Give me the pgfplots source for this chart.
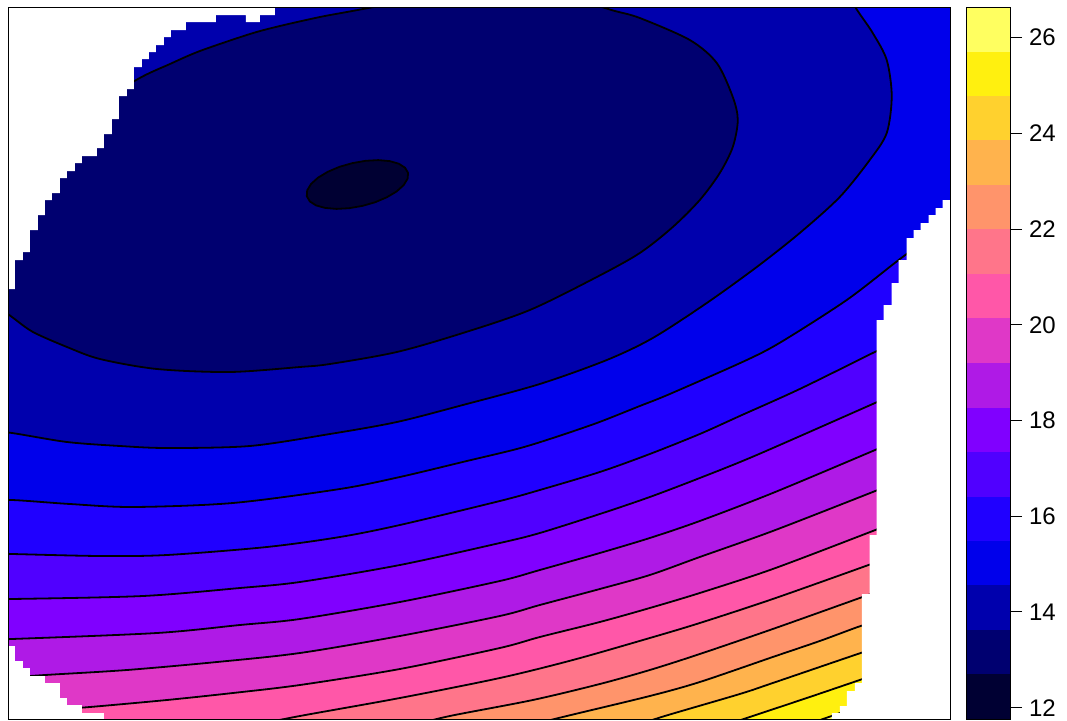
\documentclass[border=0pt]{standalone}
\usepackage{pgfplots}
\pgfplotsset{compat=1.18}
\usepgfplotslibrary{fillbetween}
\usepackage{fontspec}
\setmainfont{Liberation Sans}
\definecolor{b0}{RGB}{0,0,51}
\definecolor{b1}{RGB}{0,0,112}
\definecolor{b2}{RGB}{0,0,173}
\definecolor{b3}{RGB}{0,0,235}
\definecolor{b4}{RGB}{32,0,255}
\definecolor{b5}{RGB}{80,0,255}
\definecolor{b6}{RGB}{128,0,255}
\definecolor{b7}{RGB}{175,26,230}
\definecolor{b8}{RGB}{223,56,199}
\definecolor{b9}{RGB}{255,87,168}
\definecolor{b10}{RGB}{255,117,138}
\definecolor{b11}{RGB}{255,148,107}
\definecolor{b12}{RGB}{255,179,77}
\definecolor{b13}{RGB}{255,209,46}
\definecolor{b14}{RGB}{255,240,15}
\definecolor{b15}{RGB}{255,255,96}
\begin{document}
\begin{tikzpicture}
\begin{axis}[
  at={(4pt,0.5pt)}, anchor=south west,
  scale only axis, width=471.35pt, height=355.85pt,
  xmin=8, xmax=951, ymin=7.3, ymax=719, y dir=reverse,
  xtick=\empty, ytick=\empty,
  axis on top,
  axis line style={line width=0.5pt},
  axis background/.style={fill=b15},
]
\addplot[name path=top, draw=none] coordinates {(-200,-200) (1200,-200)};
% contour lines (pixel coordinates of the reference panel)
\addplot[name path=c15, smooth, draw=black, line width=0.9pt, mark=none] coordinates {(-200,737) (770,737) (800,727) (829,717) (860,706) (890,696)};
\addplot[name path=c14, smooth, draw=black, line width=0.9pt, mark=none] coordinates {(-200,737) (690,737) (720,727) (750,717) (807,698) (857,681) (880,673) (910,663)};
\addplot[name path=c13, smooth, draw=black, line width=0.9pt, mark=none] coordinates {(-200,736) (605,736) (635,726) (665,716) (740,694) (773,683) (858,654) (880,647) (910,637)};
\addplot[name path=c12, smooth, draw=black, line width=0.9pt, mark=none] coordinates {(-200,737) (487,737) (527,726) (567,716) (650,696) (700,682) (773,657) (820,641) (858,627) (880,620) (910,611)};
\addplot[name path=c11, smooth, draw=black, line width=0.9pt, mark=none] coordinates {(-200,736) (370,736) (410,726) (450,716) (533,700) (600,684) (650,670) (700,654) (773,629) (860,598) (885,589) (915,578)};
\addplot[name path=c10, smooth, draw=black, line width=0.9pt, mark=none] coordinates {(-200,745) (150,745) (200,736) (250,726) (300,716) (400,698) (500,678) (573,660) (650,638) (700,623) (773,599) (866,566) (890,557) (920,546)};
\addplot[name path=c9, smooth, draw=black, line width=0.9pt, mark=none] coordinates {(-60,715) (-30,714) (30,711) (60,709) (90,707) (167,700) (233,693) (300,685) (400,669) (500,648) (540,637) (600,622) (650,608) (700,593) (773,569) (873,531) (900,520) (930,508)};
\addplot[name path=c8, smooth, draw=black, line width=0.9pt, mark=none] coordinates {(-60,680) (-30,679) (0,678) (45,675) (127,670) (217,662) (300,653) (400,636) (500,616) (540,605) (600,589) (650,575) (700,557) (773,531) (873,492) (900,481) (930,469)};
\addplot[name path=c7, smooth, draw=black, line width=0.9pt, mark=none] coordinates {(-60,640) (-30,640) (12,639) (157,633) (240,625) (300,619) (400,602) (500,581) (540,570) (600,553) (650,538) (700,521) (773,493) (873,451) (900,439) (930,426)};
\addplot[name path=c6, smooth, draw=black, line width=0.9pt, mark=none] coordinates {(-60,599) (-30,599) (12,599) (143,596) (240,588) (300,582) (400,565) (500,543) (540,533) (600,514) (650,497) (700,478) (757,455) (873,404) (900,392) (930,379)};
\addplot[name path=c5, smooth, draw=black, line width=0.9pt, mark=none] coordinates {(-60,553) (-30,553) (12,554) (100,556) (167,555) (267,547) (340,537) (400,525) (500,501) (540,490) (600,472) (650,454) (700,434) (740,416) (800,389) (873,353) (900,340) (930,325)};
\addplot[name path=c4, smooth, draw=black, line width=0.9pt, mark=none] coordinates {(-60,500) (-30,500) (12,500) (70,504) (133,507) (233,503) (340,489) (400,477) (467,461) (517,449) (550,439) (597,423) (640,406) (670,394) (747,360) (783,341) (847,300) (895,263) (920,244) (945,224)};
\addplot[name path=c3, smooth, draw=black, line width=0.9pt, mark=none] coordinates {(-60,424) (-30,428) (12,433) (67,442) (120,446) (167,448) (250,446) (330,434) (397,422) (463,405) (540,384) (607,360) (653,338) (707,303) (757,267) (800,233) (840,197) (870,160) (887,133) (892,96) (887,60) (873,33) (858,11) (845,-10) (830,-30)};
\addplot[name path=c2a, smooth, draw=black, line width=0.9pt, mark=none] coordinates {(-20,290) (0,232) (40,160) (90,110) (138,79) (170,64) (200,51) (250,34) (280,26) (320,17) (347,12) (380,6) (430,-2) (490,-8)};
\addplot[name path=c2b, smooth, draw=black, line width=0.9pt, mark=none] coordinates {(-20,290) (-4,305) (12,317) (33,332) (67,347) (100,359) (157,369) (230,372) (300,367) (330,364) (397,352) (463,333) (530,310) (597,277) (640,253) (673,227) (700,200) (720,173) (733,147) (738,120) (733,97) (717,63) (690,40) (640,18) (615,11) (590,4) (540,-4) (490,-8)};
% filled bands (placed beneath the lines)
\addplot[fill=b14, draw=none] fill between[of=c15 and top];
\addplot[fill=b13, draw=none] fill between[of=c14 and top];
\addplot[fill=b12, draw=none] fill between[of=c13 and top];
\addplot[fill=b11, draw=none] fill between[of=c12 and top];
\addplot[fill=b10, draw=none] fill between[of=c11 and top];
\addplot[fill=b9, draw=none] fill between[of=c10 and top];
\addplot[fill=b8, draw=none] fill between[of=c9 and top];
\addplot[fill=b7, draw=none] fill between[of=c8 and top];
\addplot[fill=b6, draw=none] fill between[of=c7 and top];
\addplot[fill=b5, draw=none] fill between[of=c6 and top];
\addplot[fill=b4, draw=none] fill between[of=c5 and top];
\addplot[fill=b3, draw=none] fill between[of=c4 and top];
\addplot[fill=b2, draw=none] fill between[of=c3 and top];
\addplot[fill=b1, draw=none] fill between[of=c2a and c2b];
% innermost level
\addplot[fill=b0, draw=black, line width=0.9pt, line join=round, mark=none] coordinates {(408.2,172.8) (407.7,178.7) (403.8,185.1) (396.8,191.4) (387.1,197.2) (375.4,202.2) (362.5,205.9) (349.2,208.2) (336.5,208.9) (325.2,207.9) (316.1,205.4) (309.9,201.4) (306.9,196.2) (307.3,190.3) (311.2,183.9) (318.2,177.6) (327.9,171.8) (339.6,166.8) (352.6,163.1) (365.8,160.8) (378.5,160.1) (389.8,161.1) (398.9,163.7) (405.1,167.7) (408.2,172.8)};
% cells without data
\addplot[fill=white, draw=none] coordinates {(-10,-10) (275,-10) (275,15) (260,15) (260,22) (246,22) (246,15) (216,15) (216,22) (186,22) (186,30) (171,30) (171,37) (164,37) (164,45) (156,45) (156,52) (149,52) (149,59) (142,59) (142,67) (134,67) (134,89) (127,89) (127,96) (119,96) (119,119) (112,119) (112,134) (104,134) (104,148) (97,148) (97,156) (82,156) (82,163) (75,163) (75,171) (67,171) (67,178) (60,178) (60,193) (52,193) (52,200) (45,200) (45,215) (38,215) (38,230) (30,230) (30,252) (23,252) (23,260) (15,260) (15,289) (-10,289)};
\addplot[fill=white, draw=none] coordinates {(-10,646) (15,646) (15,661) (23,661) (23,668) (30,668) (30,676) (45,676) (45,683) (60,683) (60,698) (67,698) (67,705) (82,705) (82,713) (104,713) (104,730) (-10,730)};
\addplot[fill=white, draw=none] coordinates {(1000,200) (943,200) (943,208) (936,208) (936,215) (929,215) (929,223) (921,223) (921,230) (914,230) (914,238) (907,238) (907,260) (899,260) (899,283) (892,283) (892,305) (884,305) (884,320) (877,320) (877,535) (870,535) (870,594) (862,594) (862,683) (855,683) (855,691) (847,691) (847,706) (840,706) (840,713) (832,713) (832,730) (1000,730)};
\end{axis}
\begin{axis}[
  at={(483.35pt,0.5pt)}, anchor=south west,
  scale only axis, width=21.65pt, height=356pt,
  xmin=0, xmax=1, ymin=11.764, ymax=26.642,
  xtick=\empty, ytick={12,14,...,26},
  ytick pos=right, yticklabel pos=right,
  tick align=outside, major tick length=6pt,
  tick style={black, line width=0.5pt},
  axis on top,
  axis line style={line width=0.5pt},
  tick label style={font=\fontsize{12}{14}\selectfont},
  /pgf/number format/assume math mode=true,
]
\addplot[fill=b0, draw=none] coordinates {(0,11.764) (1,11.764) (1,12.694) (0,12.694)};
\addplot[fill=b1, draw=none] coordinates {(0,12.694) (1,12.694) (1,13.624) (0,13.624)};
\addplot[fill=b2, draw=none] coordinates {(0,13.624) (1,13.624) (1,14.554) (0,14.554)};
\addplot[fill=b3, draw=none] coordinates {(0,14.554) (1,14.554) (1,15.484) (0,15.484)};
\addplot[fill=b4, draw=none] coordinates {(0,15.484) (1,15.484) (1,16.413) (0,16.413)};
\addplot[fill=b5, draw=none] coordinates {(0,16.413) (1,16.413) (1,17.343) (0,17.343)};
\addplot[fill=b6, draw=none] coordinates {(0,17.343) (1,17.343) (1,18.273) (0,18.273)};
\addplot[fill=b7, draw=none] coordinates {(0,18.273) (1,18.273) (1,19.203) (0,19.203)};
\addplot[fill=b8, draw=none] coordinates {(0,19.203) (1,19.203) (1,20.133) (0,20.133)};
\addplot[fill=b9, draw=none] coordinates {(0,20.133) (1,20.133) (1,21.063) (0,21.063)};
\addplot[fill=b10, draw=none] coordinates {(0,21.063) (1,21.063) (1,21.993) (0,21.993)};
\addplot[fill=b11, draw=none] coordinates {(0,21.993) (1,21.993) (1,22.923) (0,22.923)};
\addplot[fill=b12, draw=none] coordinates {(0,22.923) (1,22.923) (1,23.853) (0,23.853)};
\addplot[fill=b13, draw=none] coordinates {(0,23.853) (1,23.853) (1,24.782) (0,24.782)};
\addplot[fill=b14, draw=none] coordinates {(0,24.782) (1,24.782) (1,25.712) (0,25.712)};
\addplot[fill=b15, draw=none] coordinates {(0,25.712) (1,25.712) (1,26.642) (0,26.642)};
\end{axis}
\pgfresetboundingbox
\useasboundingbox (0,0) rectangle (533.5pt,360pt);
\end{tikzpicture}
\end{document}
